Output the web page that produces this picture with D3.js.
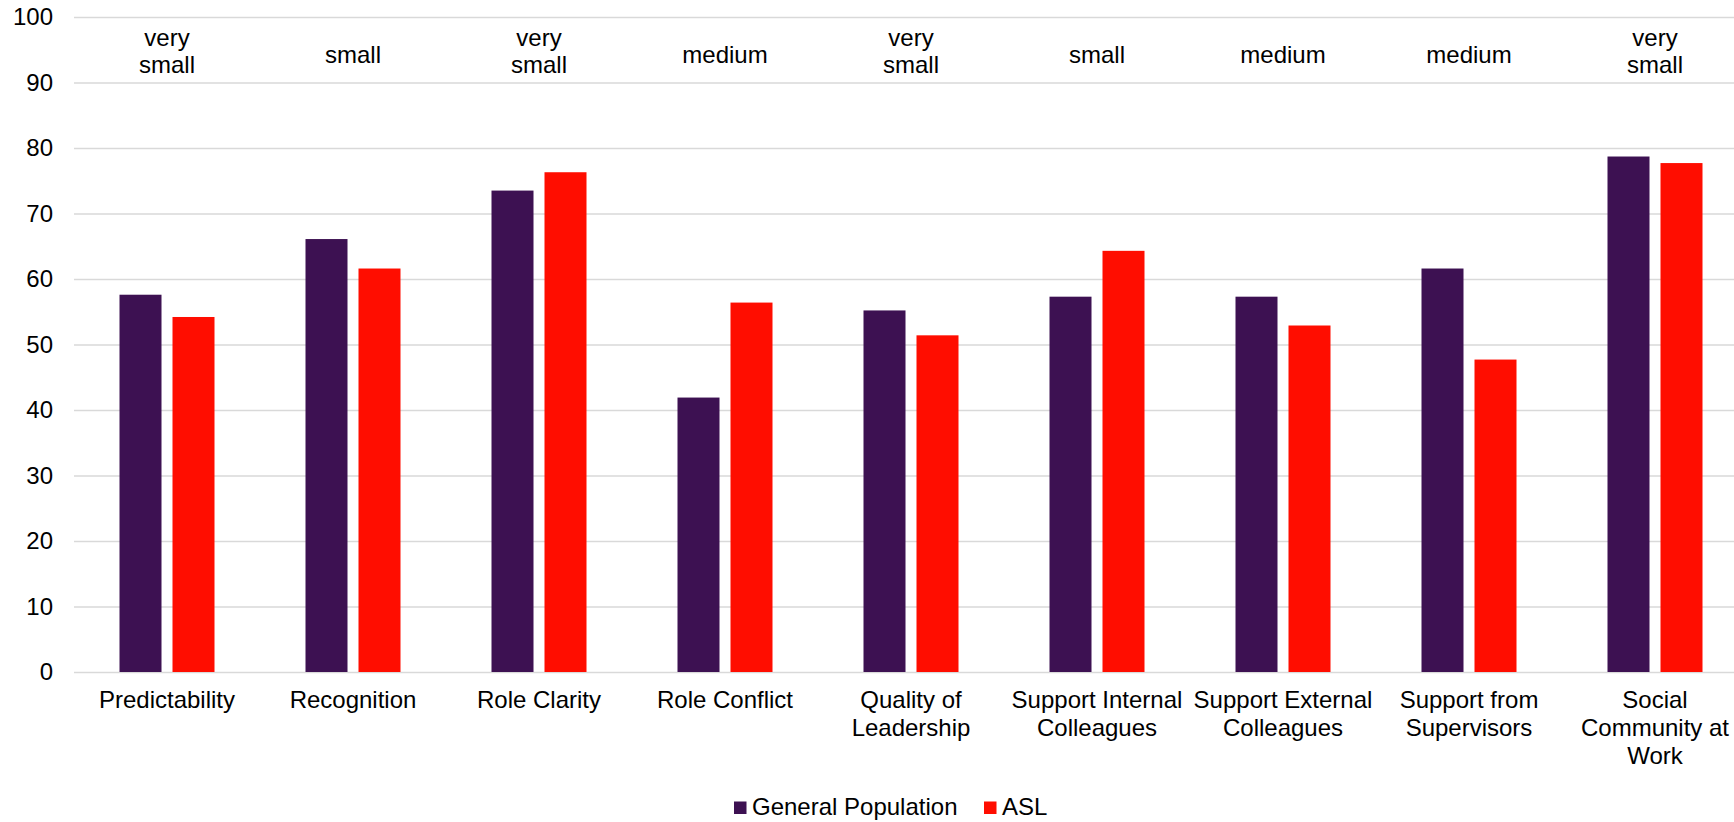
<!DOCTYPE html>
<html>
<head>
<meta charset="utf-8">
<script src="https://cdn.jsdelivr.net/npm/d3@7"></script>
<style>
  html, body { margin: 0; padding: 0; background: #fff; }
  svg { display: block; font-family: "Liberation Sans", Arial, sans-serif; }
</style>
</head>
<body>
<svg id="chart" width="1734" height="822"></svg>
<script>
const categories = [
  "Predictability",
  "Recognition",
  "Role Clarity",
  "Role Conflict",
  "Quality of\nLeadership",
  "Support Internal\nColleagues",
  "Support External\nColleagues",
  "Support from\nSupervisors",
  "Social\nCommunity at\nWork"
];
const generalPopulation = [57.6, 66.1, 73.5, 41.9, 55.2, 57.3, 57.3, 61.6, 78.7];
const asl = [54.2, 61.6, 76.3, 56.4, 51.4, 64.3, 52.9, 47.7, 77.7];
const effectSizes = ["very\nsmall", "small", "very\nsmall", "medium", "very\nsmall", "small", "medium", "medium", "very\nsmall"];
const seriesNames = ["General Population", "ASL"];
const seriesColors = ["#3d1152", "#ff0d00"];
const yTicks = [0, 10, 20, 30, 40, 50, 60, 70, 80, 90, 100];

const W = 1734, H = 822;
const plotLeft = 74, plotRight = 1748, plotTop = 17, plotBottom = 672;
const svg = d3.select("#chart");

const x0 = d3.scaleBand()
  .domain(categories)
  .range([plotLeft, plotRight])
  .paddingInner(91 / 186)
  .paddingOuter(91 / 186 / 2);

const x1 = d3.scaleBand()
  .domain(seriesNames)
  .range([0, x0.bandwidth()])
  .paddingInner(11 / 53)
  .paddingOuter(0);

const y = d3.scaleLinear().domain([0, 100]).range([plotBottom, plotTop]);
const color = d3.scaleOrdinal().domain(seriesNames).range(seriesColors);

// Y axis with gridlines
const yAxis = svg.append("g")
  .attr("transform", `translate(${plotLeft},0)`)
  .call(d3.axisLeft(y).tickValues(yTicks).tickSize(-(W - plotLeft)).tickPadding(21));
yAxis.select(".domain").remove();
yAxis.selectAll(".tick line").attr("stroke", "#d9d9d9").attr("stroke-width", 1.5);
yAxis.selectAll(".tick text")
  .attr("font-size", 24)
  .attr("fill", "#000")
  .attr("font-family", "'Liberation Sans', Arial, sans-serif");

// X axis labels
const xAxis = svg.append("g")
  .attr("transform", `translate(0,${plotBottom})`)
  .call(d3.axisBottom(x0).tickSize(0));
xAxis.select(".domain").remove();
xAxis.selectAll(".tick").attr("transform", d => `translate(${x0(d) + x0.bandwidth() / 2},0)`);
xAxis.selectAll(".tick text").each(function(d) {
  const t = d3.select(this);
  t.text(null).attr("y", 0).attr("dy", null)
    .attr("font-size", 24).attr("fill", "#000")
    .attr("text-anchor", "middle")
    .attr("font-family", "'Liberation Sans', Arial, sans-serif");
  d.split("\n").forEach((line, i) => {
    t.append("tspan").attr("x", 0).attr("y", 36 + i * 28).text(line);
  });
});

// Bars
const rows = categories.map((c, i) => ({ cat: c, vals: [generalPopulation[i], asl[i]] }));
const groups = svg.append("g").selectAll("g")
  .data(rows).join("g")
  .attr("transform", d => `translate(${x0(d.cat)},0)`);
groups.selectAll("rect")
  .data(d => d.vals.map((v, j) => ({ key: seriesNames[j], value: v })))
  .join("rect")
  .attr("x", d => x1(d.key))
  .attr("width", x1.bandwidth())
  .attr("y", d => y(d.value))
  .attr("height", d => y(0) - y(d.value))
  .attr("fill", d => color(d.key));

// Effect size labels
const eff = svg.append("g").selectAll("text")
  .data(categories.map((c, i) => ({ cat: c, label: effectSizes[i] })))
  .join("text")
  .attr("text-anchor", "middle")
  .attr("font-size", 24)
  .attr("fill", "#000")
  .attr("transform", d => `translate(${x0(d.cat) + x0.bandwidth() / 2},0)`);
eff.each(function(d) {
  const lines = d.label.split("\n");
  const t = d3.select(this);
  if (lines.length === 1) {
    t.append("tspan").attr("x", 0).attr("y", 63).text(lines[0]);
  } else {
    lines.forEach((line, i) => {
      t.append("tspan").attr("x", 0).attr("y", 46 + i * 27).text(line);
    });
  }
});

// Legend
const legend = svg.append("g");
const legendItems = [
  { name: seriesNames[0], x: 734 },
  { name: seriesNames[1], x: 984 }
];
legendItems.forEach(it => {
  legend.append("rect")
    .attr("x", it.x).attr("y", 801.5)
    .attr("width", 12.5).attr("height", 12.5)
    .attr("fill", color(it.name));
  legend.append("text")
    .attr("x", it.x + 18).attr("y", 815)
    .attr("font-size", 24).attr("fill", "#000")
    .text(it.name);
});
</script>
</body>
</html>
